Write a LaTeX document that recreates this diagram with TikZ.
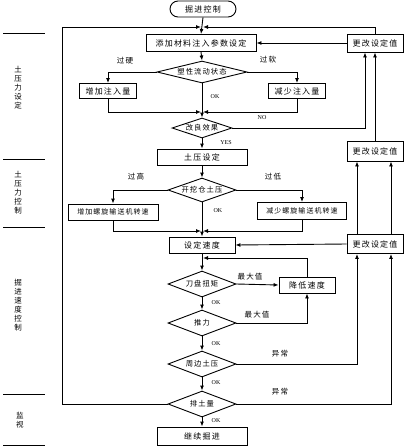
\documentclass[tikz,border=0pt]{standalone}
\usepackage{fontspec}
\setmainfont{Liberation Serif}
\newfontfamily\cjk{Noto Sans CJK SC}[LetterSpace=15]
\usetikzlibrary{shapes.geometric,arrows.meta}
\begin{document}
\begin{tikzpicture}[x=1pt,y=-1pt,
  every node/.style={font=\cjk\fontsize{8}{9}\selectfont, inner sep=0pt},
  box/.style={draw, rectangle, line width=0.9pt, minimum height=16pt},
  dia/.style={draw, diamond, line width=0.9pt, font=\cjk\fontsize{7.3}{8}\selectfont},
  arr/.style={-{Latex[length=5pt,width=4pt]}, line width=0.9pt},
  ln/.style={line width=0.9pt},
  lab/.style={font=\cjk\fontsize{7.5}{9}\selectfont},
  small/.style={font=\cjk\fontsize{7}{8}\selectfont},
  ok/.style={font=\fontsize{6}{7}\selectfont}]
\useasboundingbox[fill=white] (0,0) rectangle (404,448);

% lanes
\foreach \yy/\nm in {33/l1,159/l2,227/l3,394/l4,445/l5}{
  \coordinate (\nm a) at (3,\yy); \coordinate (\nm b) at (45,\yy);
  \draw[ln] (\nm a) -- (\nm b);}
\node[lab, align=center] (lane1) at (18,88) {土\\压\\力\\设\\定};
\node[lab, align=center] (lane2) at (18,193) {土\\压\\力\\控\\制};
\node[lab, align=center] (lane3) at (18,305) {掘\\进\\速\\度\\控\\制};
\node[lab, align=center] (lane4) at (20,420) {监\\视};

% main column
\node[box, rounded corners=8pt, minimum width=66pt] (start) at (203,9) {掘进控制};
\node[box, minimum width=110pt, minimum height=17pt] (b1) at (201,43) {添加材料注入参数设定};
\node[box, minimum width=56pt, minimum height=18pt] (r1) at (375,43) {更改设定值};
\node[dia, minimum width=90pt, minimum height=22pt] (d1) at (202,72) {\makebox[0pt]{塑性流动状态}};
\node[box, minimum width=57pt, minimum height=15pt] (bl1) at (108,91) {增加注入量};
\node[box, minimum width=57pt, minimum height=15pt] (br1) at (297,91) {减少注入量};
\node[dia, minimum width=60pt, minimum height=20pt] (d2) at (202,128) {\makebox[0pt]{改良效果}};
\node[box, minimum width=90pt, minimum height=16pt] (b2) at (202,157) {土压设定};
\node[box, minimum width=56pt, minimum height=20pt] (r2) at (375,151) {更改设定值};
\node[dia, minimum width=68pt, minimum height=24pt] (d3) at (202,190) {\makebox[0pt]{开挖仓土压}};
\node[box, small, minimum width=90pt, minimum height=16pt] (bl2) at (113,212) {增加螺旋输送机转速};
\node[box, small, minimum width=89pt, minimum height=17pt] (br2) at (302,211) {减少螺旋输送机转速};
\node[box, minimum width=66pt, minimum height=16pt] (b3) at (202,245) {设定速度};
\node[box, minimum width=56pt, minimum height=19pt] (r3) at (375,244) {更改设定值};
\node[dia, minimum width=68pt, minimum height=26pt] (d4) at (202,284) {\makebox[0pt]{刀盘扭矩}};
\node[box, minimum width=56pt, minimum height=16pt] (low) at (307,285) {降低速度};
\node[dia, minimum width=68pt, minimum height=26pt] (d5) at (202,323) {\makebox[0pt]{推力}};
\node[dia, minimum width=68pt, minimum height=26pt] (d6) at (202,364) {\makebox[0pt]{周边土压}};
\node[dia, minimum width=68pt, minimum height=26pt] (d7) at (202,404) {\makebox[0pt]{排土量}};
\node[box, minimum width=90pt, minimum height=18pt] (b4) at (202,436) {继续掘进};

% junction coordinates
\coordinate (jtop) at (202,27);
\coordinate (ltop) at (62,27);
\coordinate (m1) at (202,112);
\coordinate (m2) at (202,231);
\coordinate (m3) at (202,258);

% top loops
\draw[arr] (start.south) -- (b1.north);
\draw[arr] (d7.west) -- (d7.west -| ltop) -- (ltop) -- ([xshift=-1pt]jtop);
\draw[arr] (r1.north) -- (r1.north |- jtop) -- ([xshift=1pt]jtop);
\draw[arr] (r1.west) -- (b1.east);

% first block
\draw[arr] (b1.south) -- (d1.north);
\draw[arr] (d1.west) -| (bl1.north);
\draw[arr] (d1.east) -| (br1.north);
\draw[arr] (bl1.south) |- ([xshift=-1pt]m1);
\draw[arr] (br1.south) |- ([xshift=1pt]m1);
\draw[arr] (d1.south) -- (d2.north);
\draw[arr] (d2.east) -| ([xshift=-10pt]r1.south);
\draw[arr] (r2.north) -- (r1.south);
\node[lab] (t1) at (125,61) {过硬};
\node[lab] (t2) at (268,60) {过软};
\node[ok] (t3) at (215,97) {OK};
\node[ok] (t4) at (262,118) {NO};
\node[ok] (t5) at (226,143) {YES};

% second block
\draw[arr] (d2.south) -- (b2.north);
\draw[arr] (b2.south) -- (d3.north);
\draw[arr] (d3.west) -| (bl2.north);
\draw[arr] (d3.east) -| (br2.north);
\draw[arr] (bl2.south) |- ([xshift=-1pt]m2);
\draw[arr] (br2.south) |- ([xshift=1pt]m2);
\draw[arr] (d3.south) -- (b3.north);
\node[lab] (t6) at (136,177) {过高};
\node[lab] (t7) at (273,177) {过低};
\node[ok] (t8) at (218,211) {OK};

% third block
\draw[arr] (r3.west) -- (b3.east);
\draw[arr] ([xshift=-18pt]r3.north) -- ([xshift=-18pt]r2.south);
\draw[arr] ([xshift=16pt]r3.north) -- ([xshift=16pt]r2.south);
\draw[arr] (b3.south) -- (d4.north);
\draw[arr] (low.north) |- ([xshift=1pt]m3);
\draw[arr] (d4.east) -- (low.west);
\draw[arr] (d4.south) -- (d5.north);
\draw[arr] (d5.east) -| (low.south);
\draw[arr] (d5.south) -- (d6.north);
\draw[arr] (d6.east) -| ([xshift=-18pt]r3.south);
\draw[arr] (d6.south) -- (d7.north);
\draw[arr] (d7.east) -| ([xshift=16pt]r3.south);
\draw[arr] (d7.south) -- (b4.north);
\node[lab] (t9) at (250,277) {最大值};
\node[lab] (t10) at (257,315) {最大值};
\node[lab] (t11) at (280,354) {异常};
\node[lab] (t12) at (280,392) {异常};
\node[ok] (t13) at (216,303) {OK};
\node[ok] (t14) at (216,344) {OK};
\node[ok] (t15) at (216,383) {OK};
\node[ok] (t16) at (216,421) {OK};
\end{tikzpicture}
\end{document}
